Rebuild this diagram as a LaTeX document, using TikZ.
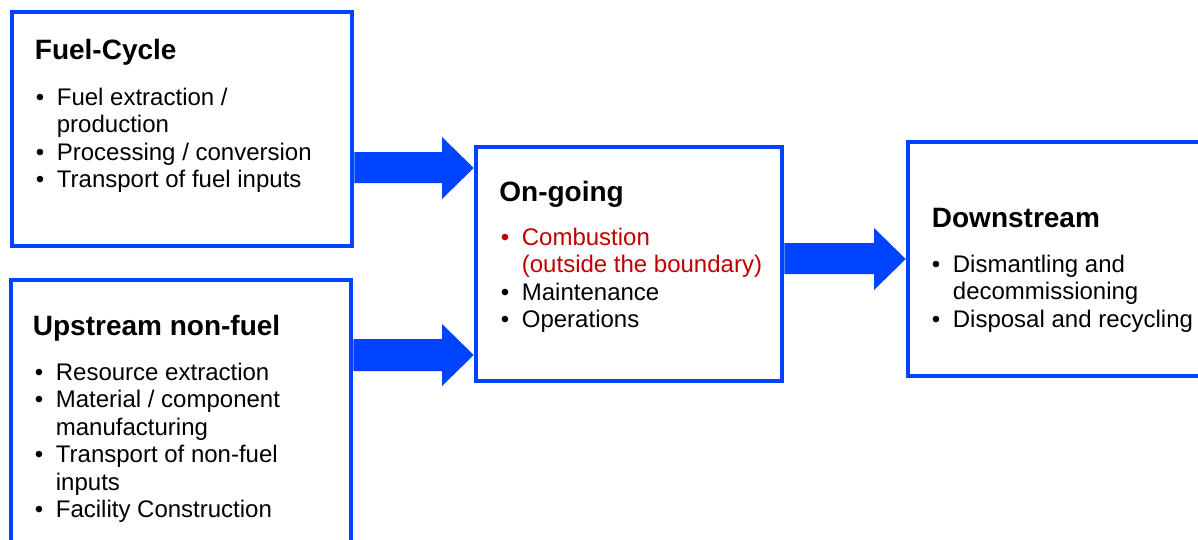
\documentclass[tikz,border=0pt]{standalone}
\usepackage{fontspec}
\setmainfont{Liberation Sans}
\usetikzlibrary{calc}
\definecolor{boxblue}{RGB}{0,68,255}
\definecolor{combred}{RGB}{192,0,0}
\newcommand{\bul}{\makebox[10.5pt][l]{•}}
\newcommand{\ind}{\hspace*{10.5pt}}
\begin{document}
\begin{tikzpicture}[x=0.5pt,y=-0.5pt,
  box/.style={draw=boxblue, line width=2.25pt, rectangle, inner sep=0pt, fill=white},
  titletxt/.style={anchor=base west, inner sep=0pt, font=\fontsize{14pt}{16pt}\selectfont\bfseries},
  listtxt/.style={anchor=base west, inner sep=0pt, font=\fontsize{12pt}{13.75pt}\selectfont},
  blockarrow/.style={fill=boxblue, draw=none}]
\useasboundingbox (0,0) rectangle (1198,540);
\clip (0,0) rectangle (1198,540);
\fill[white] (0,0) rectangle (1198,540);

% boxes
\node[box, minimum width=170pt, minimum height=117pt] (fuel) at (182,129) {};
\node[box, minimum width=170pt, minimum height=140pt] (up) at (181,420) {};
\node[box, minimum width=153pt, minimum height=117pt] (ongoing) at (629,264) {};
\node[box, minimum width=156pt, minimum height=117pt] (down) at (1064,259) {};

% block arrows
\path[blockarrow] (fuel.east |- 0,152) -- (442,152) -- (442,137) -- (ongoing.west |- 0,168)
  -- (442,199) -- (442,183) -- (fuel.east |- 0,183) -- cycle;
\path[blockarrow] (up.east |- 0,339) -- (442,339) -- (442,324) -- (ongoing.west |- 0,355)
  -- (442,386) -- (442,371) -- (up.east |- 0,371) -- cycle;
\path[blockarrow] (ongoing.east |- 0,243) -- (874,243) -- (874,228) -- (down.west |- 0,259)
  -- (874,290) -- (874,274) -- (ongoing.east |- 0,274) -- cycle;

% Fuel-Cycle
\node[titletxt] (fueltitle) at (34.5,60) {Fuel-Cycle};
\node[listtxt] (fuellist) at (35.5,105) {\begin{tabular}[t]{@{}l@{}}
\bul Fuel extraction /\\
\ind production\\
\bul Processing / conversion\\
\bul Transport of fuel inputs
\end{tabular}};

% Upstream non-fuel
\node[titletxt] (uptitle) at (32.5,335) {Upstream non-fuel};
\node[listtxt] (uplist) at (34.5,380) {\begin{tabular}[t]{@{}l@{}}
\bul Resource extraction\\
\bul Material / component\\
\ind manufacturing\\
\bul Transport of non-fuel\\
\ind inputs\\
\bul Facility Construction
\end{tabular}};

% On-going
\node[titletxt] (ongoingtitle) at (499,201) {On-going};
\node[listtxt] (ongoinglist) at (500.5,245) {\begin{tabular}[t]{@{}l@{}}
\textcolor{combred}{\bul Combustion}\\
\textcolor{combred}{\ind (outside the boundary)}\\
\bul Maintenance\\
\bul Operations
\end{tabular}};

% Downstream
\node[titletxt] (downtitle) at (931.5,227) {Downstream};
\node[listtxt] (downlist) at (931.5,272) {\begin{tabular}[t]{@{}l@{}}
\bul Dismantling and\\
\ind decommissioning\\
\bul Disposal and recycling
\end{tabular}};
\end{tikzpicture}
\end{document}
